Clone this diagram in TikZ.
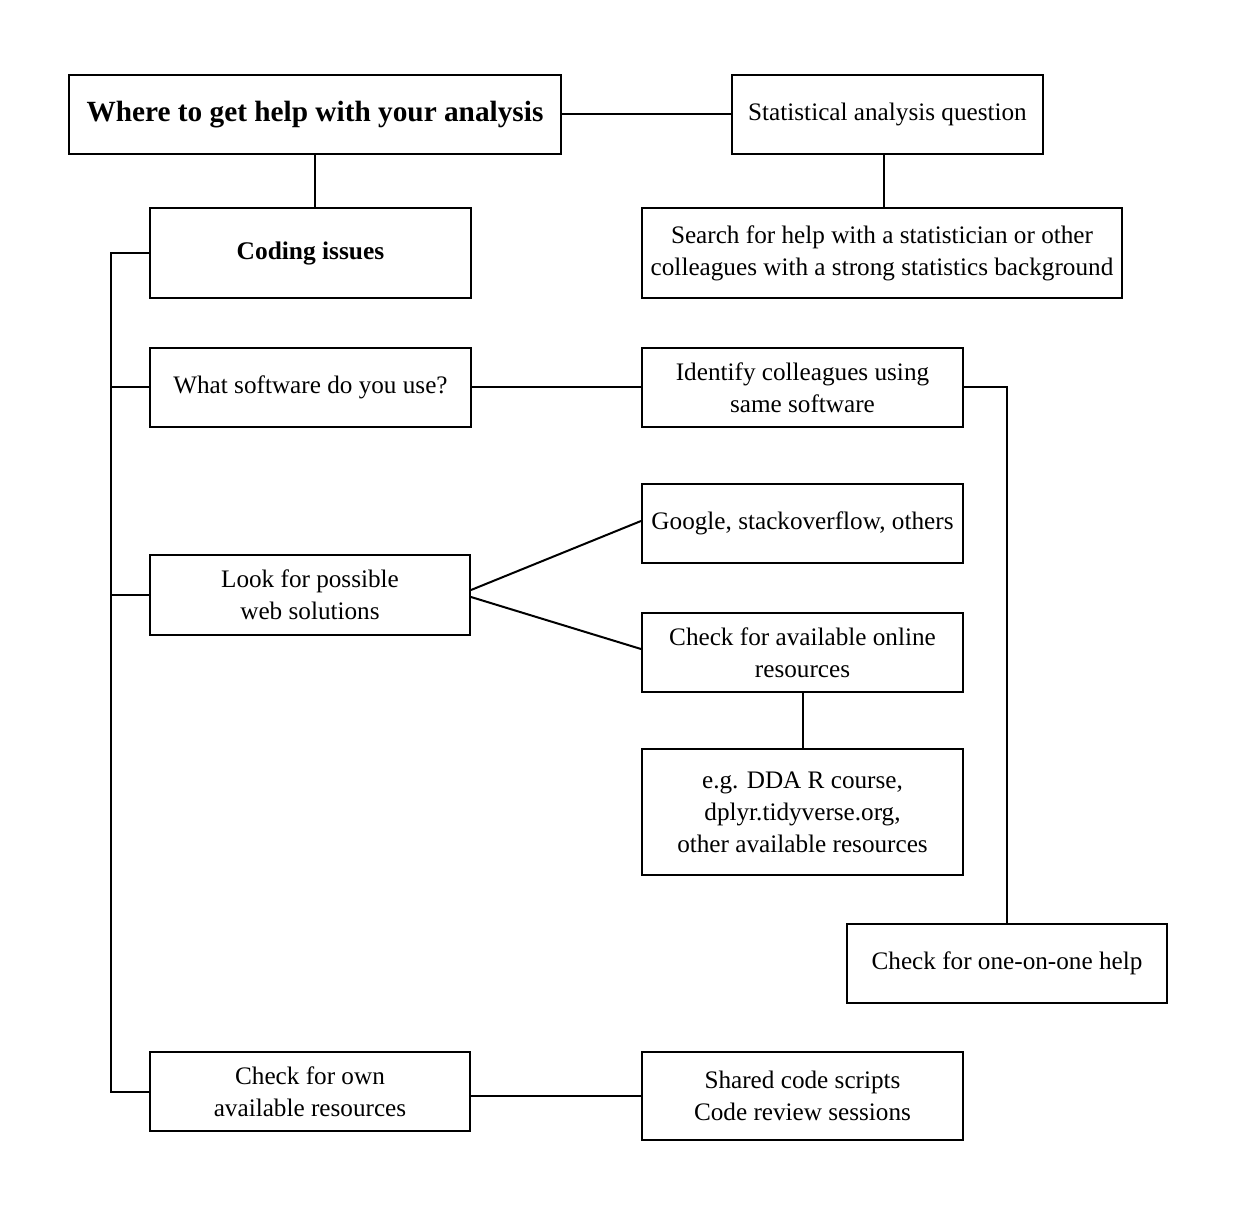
\documentclass[tikz,border=0pt]{standalone}
\usepackage{fontspec}
\setmainfont{Liberation Serif}
\begin{document}
\begin{tikzpicture}[x=1pt,y=-1pt,
  box/.style={draw,line width=2pt,rectangle,align=center,inner sep=0pt,
    font=\fontsize{25.2}{32}\selectfont},
  titlebox/.style={box,line width=2.6pt,font=\fontsize{29.3}{32}\selectfont\bfseries},
  conn/.style={line width=2pt}]
\useasboundingbox[fill=white] (0,0) rectangle (1242,1222);
\node[titlebox,minimum width=492pt,minimum height=79pt] (title) at (315,114.5) {Where to get help with your analysis};
\node[box,minimum width=311pt,minimum height=79pt] (stat) at (887.5,114.5) {Statistical analysis question};
\node[box,minimum width=321pt,minimum height=90pt,font=\fontsize{25.4}{32}\selectfont\bfseries] (coding) at (310.5,253) {Coding issues};
\node[box,minimum width=480pt,minimum height=90pt] (search) at (882,253) {Search for help with a statistician or other\\colleagues with a strong statistics background};
\node[box,minimum width=321pt,minimum height=79pt] (soft) at (310.5,387.5) {What software do you use?};
\node[box,minimum width=321pt,minimum height=79pt] (ident) at (802.5,387.5) {Identify colleagues using\\same software};
\node[box,minimum width=321pt,minimum height=79pt] (google) at (802.5,523.5) {Google, stackoverflow, others};
\node[box,minimum width=320pt,minimum height=80pt] (look) at (310,595) {Look for possible\\web solutions};
\node[box,minimum width=321pt,minimum height=79pt] (online) at (802.5,652.5) {Check for available online\\resources};
\node[box,minimum width=321pt,minimum height=126pt] (eg) at (802.5,812) {e.g. DDA R course,\\dplyr.tidyverse.org,\\other available resources};
\node[box,minimum width=320pt,minimum height=79pt] (one) at (1007,963.5) {Check for one-on-one help};
\node[box,minimum width=320pt,minimum height=79pt] (own) at (310,1091.5) {Check for own\\available resources};
\node[box,minimum width=321pt,minimum height=88pt] (shared) at (802.5,1096) {Shared code scripts\\Code review sessions};
% connectors
\draw[conn] (title.east) -- (stat.west);
\draw[conn] (title.south) -- (title.south |- coding.north);
\draw[conn] ([xshift=-3.5pt]stat.south) -- ([xshift=-3.5pt]stat.south |- search.north);
\draw[conn] (coding.west) -- ++(-38,0) coordinate (spine) -- (spine |- own.west) -- (own.west);
\draw[conn] (soft.west) -- (spine |- soft.west);
\draw[conn] (look.west) -- (spine |- look.west);
\draw[conn] (soft.east) -- (ident.west);
\draw[conn] (ident.east) -| (one.north);
\draw[conn] ([yshift=5pt]look.east) -- ([yshift=2.5pt]google.west);
\draw[conn] ([yshift=-2pt]look.east) -- ([yshift=3.5pt]online.west);
\draw[conn] (online.south) -- (eg.north);
\draw[conn] (shared.west) -- (shared.west -| own.east);
\end{tikzpicture}
\end{document}
